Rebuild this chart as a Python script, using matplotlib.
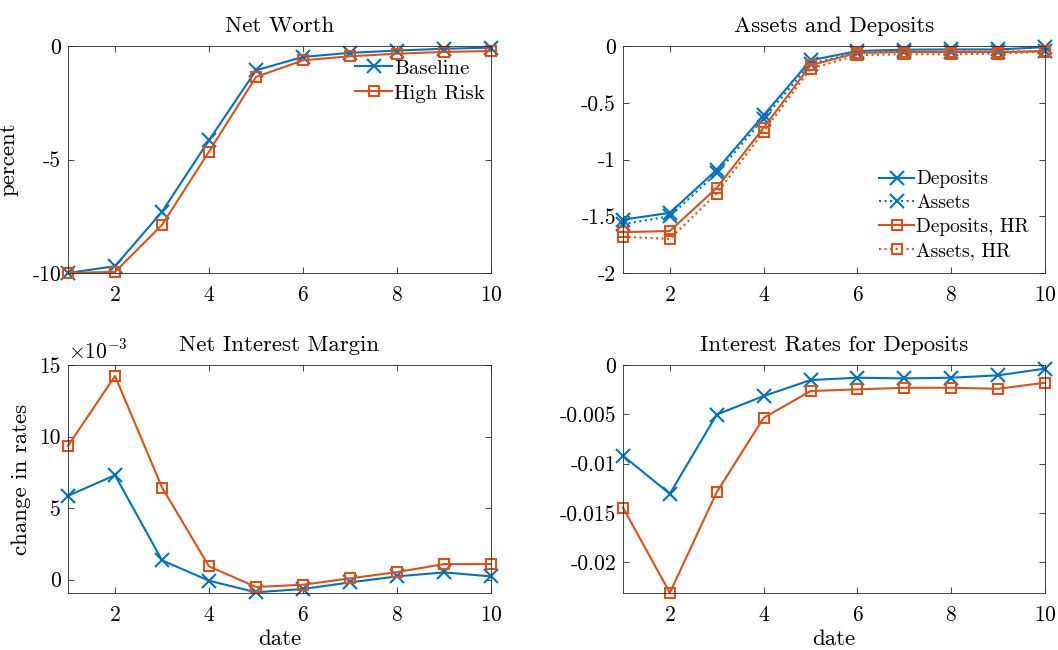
import numpy as np
import matplotlib
matplotlib.use('Agg')
from matplotlib import pyplot as plt
from matplotlib.ticker import FuncFormatter

plt.rcParams['font.family'] = 'serif'
plt.rcParams['font.serif'] = ['cmr10', 'DejaVu Serif']
plt.rcParams['mathtext.fontset'] = 'cm'
plt.rcParams['axes.unicode_minus'] = False
plt.rcParams['axes.formatter.use_mathtext'] = True

blue = '#0072BD'
orange = '#D95319'

date = [1, 2, 3, 4, 5, 6, 7, 8, 9, 10]

# Net Worth (percent)
nw_base = [-10.0, -9.7, -7.3, -4.15, -1.07, -0.48, -0.3, -0.2, -0.12, -0.07]
nw_hr = [-10.0, -9.95, -7.88, -4.65, -1.36, -0.63, -0.45, -0.34, -0.26, -0.22]

# Assets and Deposits
dep_base = [-1.53, -1.47, -1.09, -0.61, -0.126, -0.044, -0.032, -0.03, -0.03, -0.01]
ast_base = [-1.57, -1.50, -1.12, -0.64, -0.155, -0.06, -0.05, -0.05, -0.05, -0.045]
dep_hr = [-1.64, -1.63, -1.25, -0.72, -0.17, -0.06, -0.053, -0.053, -0.053, -0.045]
ast_hr = [-1.68, -1.70, -1.30, -0.755, -0.20, -0.08, -0.073, -0.073, -0.067, -0.05]

# Net Interest Margin (x 1e-3)
nim_base = [5.86, 7.3, 1.35, -0.07, -0.88, -0.65, -0.19, 0.23, 0.51, 0.23]
nim_hr = [9.35, 14.23, 6.44, 0.93, -0.51, -0.35, 0.09, 0.53, 1.09, 1.09]

# Interest rates for deposits (x 1e-3)
ir_base = [-9.19, -13.05, -5.02, -3.15, -1.53, -1.29, -1.36, -1.29, -1.05, -0.37]
ir_hr = [-14.44, -23.08, -12.88, -5.36, -2.64, -2.47, -2.31, -2.31, -2.41, -1.8]

fs = 15.5     # ticks
fl = 16.5     # titles, axis labels
lw = 1.5
ms = 10.5
msq = 7.5

fig = plt.figure(figsize=(10.58, 6.5), dpi=100)
ax1 = fig.add_axes([0.0643, 0.58, 0.3998, 0.3492])
ax2 = fig.add_axes([0.5888, 0.58, 0.3989, 0.3492])
ax3 = fig.add_axes([0.0643, 0.0877, 0.3998, 0.3508])
ax4 = fig.add_axes([0.5888, 0.0877, 0.3989, 0.3508])

hyph = FuncFormatter(lambda v, p: ('%g' % v).replace('\u2212', '-'))


def style(ax):
    ax.set_xlim(1, 10)
    ax.set_xticks([2, 4, 6, 8, 10])
    ax.tick_params(direction='in', top=True, right=True, labelsize=fs,
                   length=4, width=0.6, color='#262626')
    ax.tick_params(axis='x', pad=9)
    ax.tick_params(axis='y', pad=5)
    for s in ax.spines.values():
        s.set_color('#262626')
        s.set_linewidth(0.6)


leg_kw = dict(frameon=False, handlelength=1.8, handletextpad=0.1,
              borderpad=0, borderaxespad=0)

# Net Worth
ax1.plot(date, nw_base, color=blue, marker='x', ms=ms, mew=lw, lw=lw, label='Baseline')
ax1.plot(date, nw_hr, color=orange, marker='s', ms=msq, mfc='none', mew=lw, lw=lw, label='High Risk')
style(ax1)
ax1.set_ylim(-10, 0)
ax1.set_yticks([-10, -5, 0])
ax1.yaxis.set_major_formatter(hyph)
ax1.set_title('Net Worth', fontsize=fl, pad=10)
ax1.set_ylabel('percent', fontsize=fl, labelpad=10)
ax1.legend(loc='upper left', bbox_to_anchor=(0.678, 0.942), fontsize=15,
           labelspacing=0.3, **leg_kw)

# Assets and Deposits
ax2.plot(date, dep_base, color=blue, marker='x', ms=ms, mew=lw, lw=lw, label='Deposits')
ax2.plot(date, ast_base, color=blue, marker='x', ms=ms, mew=lw, lw=lw, ls=':', label='Assets')
ax2.plot(date, dep_hr, color=orange, marker='s', ms=msq, mfc='none', mew=lw, lw=lw, label='Deposits, HR')
ax2.plot(date, ast_hr, color=orange, marker='s', ms=msq, mfc='none', mew=lw, lw=lw, ls=':', label='Assets, HR')
style(ax2)
ax2.set_ylim(-2, 0)
ax2.set_yticks([-2, -1.5, -1, -0.5, 0])
ax2.yaxis.set_major_formatter(hyph)
ax2.set_title('Assets and Deposits', fontsize=fl, pad=10)
ax2.legend(loc='upper left', bbox_to_anchor=(0.607, 0.452), fontsize=14,
           labelspacing=0.3, **leg_kw)

# Net Interest Margin
ax3.plot(date, np.array(nim_base) * 1e-3, color=blue, marker='x', ms=ms, mew=lw, lw=lw)
ax3.plot(date, np.array(nim_hr) * 1e-3, color=orange, marker='s', ms=msq, mfc='none', mew=lw, lw=lw)
style(ax3)
ax3.set_ylim(-0.00093, 0.015)
ax3.set_yticks([0, 0.005, 0.01, 0.015])
ax3.yaxis.set_major_formatter(FuncFormatter(lambda v, p: '%g' % round(v * 1e3, 6)))
ax3.text(0.0, 1.01, r'$\times10^{-3}$', transform=ax3.transAxes, fontsize=fs, ha='left', va='bottom')
ax3.set_title('Net Interest Margin', fontsize=fl, pad=10)
ax3.set_ylabel('change in rates', fontsize=fl, labelpad=6)
ax3.set_xlabel('date', fontsize=fl, labelpad=3)

# Interest Rates for Deposits
ax4.plot(date, np.array(ir_base) * 1e-3, color=blue, marker='x', ms=ms, mew=lw, lw=lw)
ax4.plot(date, np.array(ir_hr) * 1e-3, color=orange, marker='s', ms=msq, mfc='none', mew=lw, lw=lw)
style(ax4)
ax4.set_ylim(-0.0231, 0)
ax4.set_yticks([-0.02, -0.015, -0.01, -0.005, 0])
ax4.yaxis.set_major_formatter(hyph)
ax4.set_title('Interest Rates for Deposits', fontsize=fl, pad=10)
ax4.set_xlabel('date', fontsize=fl, labelpad=3)

for ax in (ax1, ax2, ax3, ax4):
    for ln in ax.lines:
        ln.set_clip_on(False)

fig.savefig('out.png', dpi=100)
